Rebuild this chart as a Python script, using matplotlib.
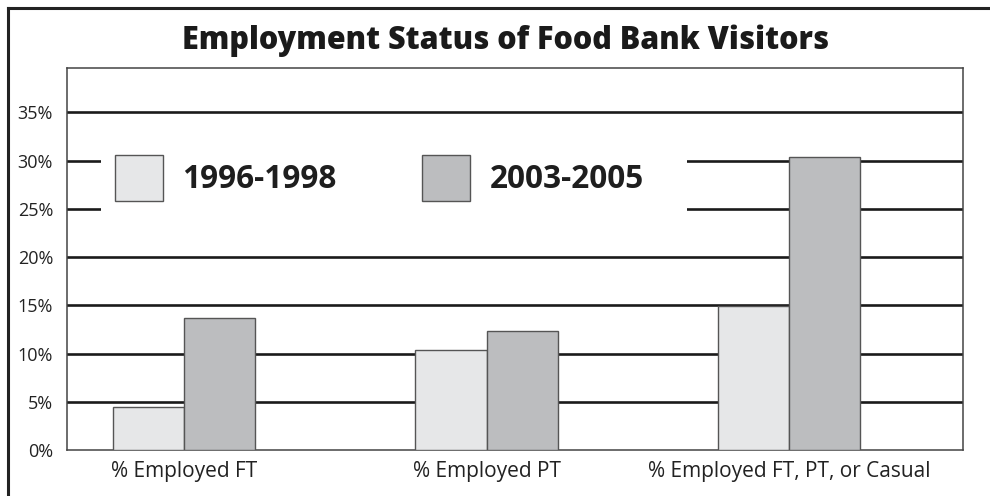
import matplotlib
matplotlib.use("Agg")
import matplotlib.pyplot as plt
import numpy as np
from matplotlib.patches import Patch, Rectangle
from matplotlib.lines import Line2D
from matplotlib import font_manager as fm

# ---- data ----
categories = ["% Employed FT", "% Employed PT", "% Employed FT, PT, or Casual"]
series_names = ["1996-1998", "2003-2005"]
values_1996_1998 = [4.5, 10.4, 14.9]
values_2003_2005 = [13.7, 12.3, 30.4]
y_ticks = [0, 5, 10, 15, 20, 25, 30, 35]
y_tick_labels = ["0%", "5%", "10%", "15%", "20%", "25%", "30%", "35%"]
title = "Employment Status of Food Bank Visitors"

colors = ["#e6e7e8", "#bcbdbf"]
edge = "#555555"

names = {f.name for f in fm.fontManager.ttflist}
base_font = "Open Sans" if "Open Sans" in names else "DejaVu Sans"
title_font = base_font

W, H = 990, 496
fig = plt.figure(figsize=(W / 100, H / 100), dpi=100)
fig.patch.set_facecolor("white")

# axes box in pixels: x 67..963, y 68..450
ax = fig.add_axes([67 / W, (H - 450) / H, 896 / W, 382 / H])

x = np.arange(len(categories))
w = 0.236
ax.bar(x - w / 2, values_1996_1998, w, color=colors[0], edgecolor=edge, linewidth=1.0, zorder=3)
ax.bar(x + w / 2, values_2003_2005, w, color=colors[1], edgecolor=edge, linewidth=1.0, zorder=3)

ax.set_xlim(-0.387, 2.575)
ax.set_ylim(0, 39.6)
ax.set_yticks(y_ticks)
ax.set_yticklabels(y_tick_labels, fontfamily=base_font, fontsize=13, color="#222222")
ax.set_xticks(x)
ax.set_xticklabels(categories, fontfamily=base_font, fontsize=15, color="#222222")
ax.tick_params(axis="both", length=0)
ax.tick_params(axis="y", pad=10)
ax.tick_params(axis="x", pad=8)

for v in y_ticks[1:]:
    ax.axhline(v, color="#1a1a1a", linewidth=1.9, zorder=1)

for s in ax.spines.values():
    s.set_color("#444444")
    s.set_linewidth(1.1)

# white area behind legend (interrupts grid lines)
ax.add_patch(Rectangle((0.038, 0.585), 0.654, 0.24, transform=ax.transAxes,
                       facecolor="white", edgecolor="none", zorder=2))

handles = [Patch(facecolor=colors[0], edgecolor=edge, linewidth=1.0),
           Patch(facecolor=colors[1], edgecolor=edge, linewidth=1.0)]
leg = ax.legend(handles, series_names, loc="upper left", bbox_to_anchor=(0.0536, 0.772),
                ncol=2, frameon=False, borderpad=0, borderaxespad=0,
                handlelength=1.52, handleheight=1.85, handletextpad=0.62,
                columnspacing=2.7,
                prop={"family": base_font, "weight": "bold", "size": 22.7})
for t in leg.get_texts():
    t.set_color("#1e1e1e")

fig.text(506 / W, (H - 49) / H, title, ha="center", va="baseline",
         fontfamily=title_font, fontweight=800, fontsize=22, color="#1a1a1a")

# outer border (left and top edges)
fig.add_artist(Line2D([8 / W, 8 / W], [0, (H - 8) / H], transform=fig.transFigure,
                      color="#222222", linewidth=2.2))
fig.add_artist(Line2D([8 / W, 1], [(H - 8) / H, (H - 8) / H], transform=fig.transFigure,
                      color="#222222", linewidth=2.2))

fig.savefig("out.png", dpi=100)
